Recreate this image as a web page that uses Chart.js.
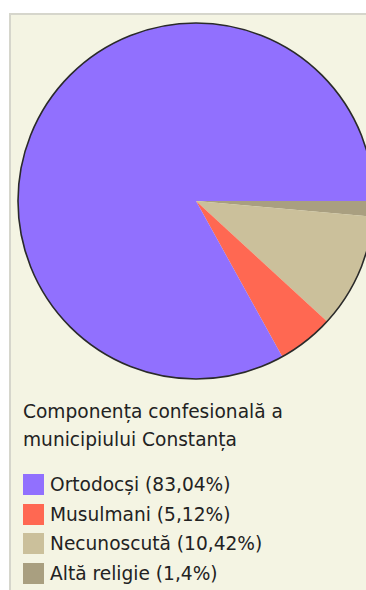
<!DOCTYPE html>
<html lang="ro">
<head>
<meta charset="utf-8">
<script src="https://cdn.jsdelivr.net/npm/chart.js@4.4.1/dist/chart.umd.min.js"></script>
<style>
  html, body { margin: 0; padding: 0; background: #fff; overflow: hidden; }
  body { width: 366px; height: 590px; position: relative; }
  #panel {
    position: absolute; left: 9px; top: 13px; width: 400px; height: 600px;
    background: #f4f4e3; border-top: 2px solid #d6d6cc; border-left: 2px solid #d6d6cc;
  }
  #pie { position: absolute; left: 5px; top: 6px; }
  #titlu {
    position: absolute; left: 12px; top: 383px; width: 330px;
    font: 18.6px "DejaVu Sans", Verdana, sans-serif; color: #222; line-height: 28px;
  }
  #legenda {
    position: absolute; left: 12px; top: 455px; margin: 0; padding: 0; list-style: none;
    font: 18.6px "DejaVu Sans", Verdana, sans-serif; color: #222;
  }
  #legenda li { height: 29.5px; display: flex; align-items: center; }
  #legenda span.box { width: 21px; height: 21px; margin-right: 6px; display: inline-block; }
</style>
</head>
<body>
<div id="panel">
  <canvas id="pie" width="360" height="360"></canvas>
  <div id="titlu">Componența confesională a municipiului Constanța</div>
  <ul id="legenda"></ul>
</div>
<script>
const religii = ["Ortodocși", "Musulmani", "Necunoscută", "Altă religie"];
const procente = [83.04, 5.12, 10.42, 1.4];
const culori = ["#9170fe", "#ff6852", "#cbc09b", "#a99f80"];

const legenda = document.getElementById("legenda");
religii.forEach((nume, i) => {
  const li = document.createElement("li");
  const text = procente[i].toString().replace(".", ",");
  li.innerHTML = `<span class="box" style="background:${culori[i]}"></span>${nume} (${text}%)`;
  legenda.appendChild(li);
});

// felia "Altă religie" porneste de la ora 3, restul urmeaza in sens orar
const dateGrafic = procente.slice().reverse();
const culoriGrafic = culori.slice().reverse();

const contur = {
  id: "contur",
  afterDatasetsDraw(chart) {
    const arc = chart.getDatasetMeta(0).data[0];
    const ctx = chart.ctx;
    ctx.save();
    ctx.beginPath();
    ctx.arc(arc.x, arc.y, arc.outerRadius, 0, Math.PI * 2);
    ctx.lineWidth = 1.6;
    ctx.strokeStyle = "#2a2a2a";
    ctx.stroke();
    ctx.restore();
  },
};

new Chart(document.getElementById("pie"), {
  type: "pie",
  data: {
    labels: religii.slice().reverse(),
    datasets: [
      {
        data: dateGrafic,
        backgroundColor: culoriGrafic,
        borderWidth: 0,
      },
    ],
  },
  options: {
    responsive: false,
    animation: false,
    rotation: 90,
    layout: { padding: 2 },
    plugins: {
      legend: { display: false },
      tooltip: { enabled: false },
    },
  },
  plugins: [contur],
});
</script>
</body>
</html>
